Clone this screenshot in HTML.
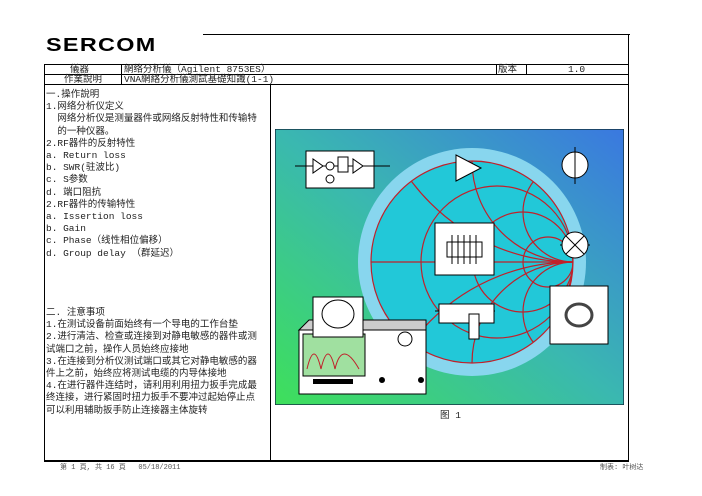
<!DOCTYPE html>
<html><head><meta charset="utf-8"><style>
html,body{margin:0;width:702px;height:496px;overflow:hidden}
body{background:#fff;position:relative;font-family:"Liberation Mono","Noto Sans CJK SC",monospace;font-size:9.5px;color:#222}
.a{position:absolute;white-space:nowrap;line-height:10px}
.l{position:absolute;background:#000}
</style></head><body>
<div class="a" style="left:46px;top:37px;font:900 18px/16px 'Liberation Sans',sans-serif;letter-spacing:1px;transform:scaleX(1.3);transform-origin:left;color:#000">SERCOM</div>
<div class="l" style="left:203px;top:34px;width:427px;height:1px"></div>
<div class="l" style="left:628px;top:34px;width:1px;height:426px"></div>
<div class="l" style="left:44px;top:64px;width:585px;height:1px"></div>
<div class="l" style="left:44px;top:74px;width:585px;height:1px"></div>
<div class="l" style="left:44px;top:84px;width:585px;height:1px"></div>
<div class="l" style="left:44px;top:460px;width:585px;height:1.5px"></div>
<div class="l" style="left:44px;top:64px;width:1px;height:397px"></div>
<div class="l" style="left:121px;top:64px;width:1px;height:20px"></div>
<div class="l" style="left:496px;top:64px;width:1px;height:10px"></div>
<div class="l" style="left:526px;top:64px;width:1px;height:10px"></div>
<div class="l" style="left:270px;top:84px;width:1px;height:376px"></div>
<div class="a" style="left:70px;top:65px">儀器</div>
<div class="a" style="left:124px;top:65px">網络分析儀（Agilent 8753ES）</div>
<div class="a" style="left:498px;top:65px">版本</div>
<div class="a" style="left:568px;top:65px">1.0</div>
<div class="a" style="left:64px;top:75px">作業說明</div>
<div class="a" style="left:124px;top:75px">VNA網絡分析儀測試基礎知識(1-1)</div>
<div class="a" style="left:46px;top:89px;line-height:12.2px">一.操作說明<br>1.网络分析仪定义<br>&nbsp;&nbsp;网络分析仪是测量器件或网络反射特性和传输特<br>&nbsp;&nbsp;的一种仪器。<br>2.RF器件的反射特性<br>a. Return loss<br>b. SWR(驻波比)<br>c. S参数<br>d. 端口阻抗<br>2.RF器件的传输特性<br>a. Issertion loss<br>b. Gain<br>c. Phase（线性相位偏移）<br>d. Group delay （群延迟）</div>
<div class="a" style="left:46px;top:307px;line-height:12.2px">二. 注意事项<br>1.在测试设备前面始终有一个导电的工作台垫<br>2.进行清洁、检查或连接到对静电敏感的器件或测<br>试端口之前，操作人员始终应接地<br>3.在连接到分析仪测试端口或其它对静电敏感的器<br>件上之前，始终应将测试电缆的内导体接地<br>4.在进行器件连结时，请利用利用扭力扳手完成最<br>终连接，进行紧固时扭力扳手不要冲过起始停止点<br>可以利用辅助扳手防止连接器主体旋转</div>
<div class="a" style="left:440px;top:411px">图 1</div>
<div class="a" style="left:60px;top:463px;font-size:7px;color:#555">第 1 頁, 共 16 頁 &nbsp;&nbsp;05/18/2011</div>
<div class="a" style="left:600px;top:463px;font-size:7px;color:#555">制表: 叶树达</div>
<svg class="a" style="left:275px;top:129px" width="349" height="276" viewBox="0 0 349 276">
<defs><linearGradient id="g" x1="0" y1="1" x2="1" y2="0"><stop offset="0" stop-color="#3ee05a"/><stop offset="0.5" stop-color="#3ab8b0"/><stop offset="1" stop-color="#3a78e0"/></linearGradient>
<clipPath id="c"><circle cx="197" cy="133" r="101"/></clipPath></defs>
<rect x="0" y="0" width="349" height="276" fill="url(#g)" stroke="#134" stroke-width="1.5"/>
<circle cx="197" cy="133" r="114" fill="#88d6ee"/>
<circle cx="197" cy="133" r="101" fill="#22c8d8" stroke="#c0202a" stroke-width="1.2"/>
<g fill="none" stroke="#c0202a" stroke-width="1.2" clip-path="url(#c)">
<line x1="96" y1="133" x2="298" y2="133"/>
<circle cx="222" cy="133" r="76"/><circle cx="248" cy="133" r="50"/><circle cx="273" cy="133" r="25"/>
<circle cx="298" cy="32" r="101"/><circle cx="298" cy="234" r="101"/>
<circle cx="298" cy="-69" r="202"/><circle cx="298" cy="335" r="202"/>
<circle cx="298" cy="83" r="50"/><circle cx="298" cy="183" r="50"/>
</g>
<rect x="31" y="22" width="68" height="37" fill="#fff" stroke="#000"/>
<line x1="20" y1="37" x2="115" y2="37" stroke="#000"/>
<polygon points="38,30 38,44 48,37" fill="#fff" stroke="#000"/>
<polygon points="78,30 78,44 88,37" fill="#fff" stroke="#000"/>
<rect x="63" y="28" width="10" height="15" fill="#fff" stroke="#000"/>
<circle cx="55" cy="37" r="4" fill="#fff" stroke="#000"/><circle cx="55" cy="50" r="4" fill="#fff" stroke="#000"/>
<polygon points="181,52 181,26 206,39" fill="#fff" stroke="#000"/>
<circle cx="300" cy="36" r="13" fill="#fff" stroke="#000"/>
<line x1="300" y1="18" x2="300" y2="55" stroke="#000"/>
<rect x="160" y="94" width="59" height="52" fill="#fff" stroke="#000"/>
<rect x="172" y="113" width="35" height="15" fill="#fff" stroke="#000"/>
<g stroke="#000"><line x1="177" y1="106" x2="177" y2="135"/><line x1="183" y1="106" x2="183" y2="135"/><line x1="189" y1="106" x2="189" y2="135"/><line x1="195" y1="106" x2="195" y2="135"/><line x1="201" y1="106" x2="201" y2="135"/></g>
<line x1="285" y1="116" x2="315" y2="116" stroke="#000"/>
<circle cx="300" cy="116" r="13" fill="#fff" stroke="#000"/>
<line x1="291" y1="107" x2="309" y2="125" stroke="#000"/><line x1="309" y1="107" x2="291" y2="125" stroke="#000"/>
<rect x="275" y="157" width="58" height="58" fill="#fff" stroke="#000"/>
<ellipse cx="304" cy="186" rx="13" ry="11" fill="none" stroke="#444" stroke-width="3"/>
<line x1="160" y1="182" x2="220" y2="182" stroke="#000"/>
<rect x="164" y="175" width="55" height="19" fill="#fff" stroke="#000"/>
<rect x="194" y="185" width="10" height="25" fill="#fff" stroke="#000"/>
<polygon points="24,201 34,191 151,191 151,201" fill="#ccc" stroke="#000"/>
<rect x="24" y="201" width="127" height="64" fill="#fff" stroke="#000"/>
<rect x="28" y="205" width="62" height="42" fill="#a0e0a0" stroke="#000"/>
<path d="M32,240 Q39,210 46,240 Q53,210 60,240 Q67,210 84,240" fill="none" stroke="#c0202a"/>
<rect x="38" y="168" width="50" height="40" fill="#fff" stroke="#000"/>
<ellipse cx="63" cy="185" rx="16" ry="14" fill="none" stroke="#000"/>
<circle cx="130" cy="210" r="7" fill="#fff" stroke="#000"/>
<rect x="38" y="250" width="40" height="5" fill="#000"/>
<circle cx="107" cy="251" r="3" fill="#000"/><circle cx="146" cy="251" r="3" fill="#000"/>
</svg>
</body></html>
